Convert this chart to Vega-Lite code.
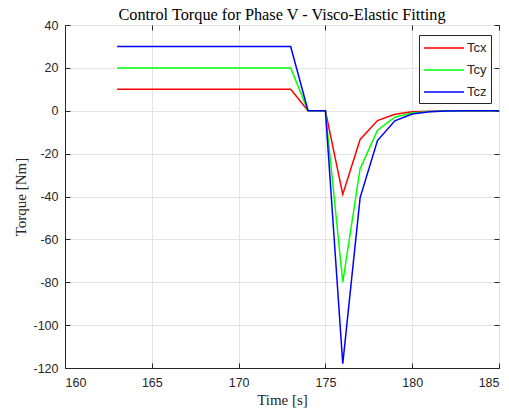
{
  "$schema": "https://vega.github.io/schema/vega-lite/v6.json",
  "autosize": {"type": "none"},
  "width": 434,
  "height": 343,
  "padding": {"left": 65, "top": 25, "right": 10, "bottom": 42},
  "background": "white",
  "title": {"text": "Control Torque for Phase V - Visco-Elastic Fitting", "font": "Liberation Serif", "fontSize": 16.3, "fontWeight": "normal", "color": "#000000", "offset": -4},
  "config": {
    "view": {"stroke": "#262626", "strokeWidth": 1},
    "axis": {"labelFont": "Liberation Sans", "labelFontSize": 12.5, "labelColor": "#262626", "titleFont": "Liberation Serif", "titleFontSize": 15, "titleFontWeight": "normal", "titleColor": "#262626", "domainColor": "#262626", "tickColor": "#262626", "tickSize": -5, "gridColor": "#e3e3e3", "gridOpacity": 1}
  },
  "data": {"values": [
    {"t": 163, "s": "Tcx", "v": 10}, {"t": 164, "s": "Tcx", "v": 10}, {"t": 165, "s": "Tcx", "v": 10}, {"t": 166, "s": "Tcx", "v": 10}, {"t": 167, "s": "Tcx", "v": 10}, {"t": 168, "s": "Tcx", "v": 10}, {"t": 169, "s": "Tcx", "v": 10}, {"t": 170, "s": "Tcx", "v": 10}, {"t": 171, "s": "Tcx", "v": 10}, {"t": 172, "s": "Tcx", "v": 10}, {"t": 173, "s": "Tcx", "v": 10},
    {"t": 174, "s": "Tcx", "v": 0}, {"t": 175, "s": "Tcx", "v": 0}, {"t": 176, "s": "Tcx", "v": -39}, {"t": 177, "s": "Tcx", "v": -13.4}, {"t": 178, "s": "Tcx", "v": -4.6}, {"t": 179, "s": "Tcx", "v": -1.6}, {"t": 180, "s": "Tcx", "v": -0.5}, {"t": 181, "s": "Tcx", "v": -0.2}, {"t": 182, "s": "Tcx", "v": -0.05}, {"t": 183, "s": "Tcx", "v": 0}, {"t": 184, "s": "Tcx", "v": 0}, {"t": 185, "s": "Tcx", "v": 0},
    {"t": 163, "s": "Tcy", "v": 20}, {"t": 164, "s": "Tcy", "v": 20}, {"t": 165, "s": "Tcy", "v": 20}, {"t": 166, "s": "Tcy", "v": 20}, {"t": 167, "s": "Tcy", "v": 20}, {"t": 168, "s": "Tcy", "v": 20}, {"t": 169, "s": "Tcy", "v": 20}, {"t": 170, "s": "Tcy", "v": 20}, {"t": 171, "s": "Tcy", "v": 20}, {"t": 172, "s": "Tcy", "v": 20}, {"t": 173, "s": "Tcy", "v": 20},
    {"t": 174, "s": "Tcy", "v": 0}, {"t": 175, "s": "Tcy", "v": 0}, {"t": 176, "s": "Tcy", "v": -80}, {"t": 177, "s": "Tcy", "v": -27}, {"t": 178, "s": "Tcy", "v": -9.1}, {"t": 179, "s": "Tcy", "v": -3.0}, {"t": 180, "s": "Tcy", "v": -1.0}, {"t": 181, "s": "Tcy", "v": -0.35}, {"t": 182, "s": "Tcy", "v": -0.1}, {"t": 183, "s": "Tcy", "v": -0.03}, {"t": 184, "s": "Tcy", "v": 0}, {"t": 185, "s": "Tcy", "v": 0},
    {"t": 163, "s": "Tcz", "v": 30}, {"t": 164, "s": "Tcz", "v": 30}, {"t": 165, "s": "Tcz", "v": 30}, {"t": 166, "s": "Tcz", "v": 30}, {"t": 167, "s": "Tcz", "v": 30}, {"t": 168, "s": "Tcz", "v": 30}, {"t": 169, "s": "Tcz", "v": 30}, {"t": 170, "s": "Tcz", "v": 30}, {"t": 171, "s": "Tcz", "v": 30}, {"t": 172, "s": "Tcz", "v": 30}, {"t": 173, "s": "Tcz", "v": 30},
    {"t": 174, "s": "Tcz", "v": 0}, {"t": 175, "s": "Tcz", "v": 0}, {"t": 176, "s": "Tcz", "v": -118}, {"t": 177, "s": "Tcz", "v": -40.5}, {"t": 178, "s": "Tcz", "v": -13.9}, {"t": 179, "s": "Tcz", "v": -4.7}, {"t": 180, "s": "Tcz", "v": -1.5}, {"t": 181, "s": "Tcz", "v": -0.5}, {"t": 182, "s": "Tcz", "v": -0.17}, {"t": 183, "s": "Tcz", "v": -0.05}, {"t": 184, "s": "Tcz", "v": 0}, {"t": 185, "s": "Tcz", "v": 0}
  ]},
  "layer": [
    {
      "mark": {"type": "line", "strokeWidth": 1.5},
      "encoding": {
        "x": {"field": "t", "type": "quantitative", "scale": {"domain": [160, 185], "nice": false, "zero": false}, "axis": {"values": [160, 165, 170, 175, 180, 185], "title": "Time [s]", "titlePadding": 4, "labelPadding": 13}},
        "y": {"field": "v", "type": "quantitative", "scale": {"domain": [-120, 40], "nice": false, "zero": false}, "axis": {"values": [-120, -100, -80, -60, -40, -20, 0, 20, 40], "labelExpr": "'' + datum.value", "title": "Torque [Nm]", "titlePadding": 4, "labelPadding": 12}},
        "color": {"field": "s", "type": "nominal", "scale": {"domain": ["Tcx", "Tcy", "Tcz"], "range": ["#ff0000", "#00ff00", "#0000ff"]},
          "legend": {"title": null, "orient": "none", "legendX": 354, "legendY": 10, "symbolType": "M-1,0H4", "symbolSize": 256, "symbolStrokeWidth": 1.5, "symbolFillColor": "transparent", "labelFont": "Liberation Sans", "labelFontSize": 13, "labelColor": "#262626", "labelOffset": 26, "strokeColor": "#262626", "fillColor": "white", "padding": 4, "rowPadding": 6, "symbolOffset": 0}}
      }
    },
    {
      "mark": {"type": "line", "opacity": 0},
      "encoding": {
        "x": {"field": "t", "type": "quantitative", "scale": {"domain": [160, 185], "nice": false, "zero": false}, "axis": {"orient": "top", "values": [160, 165, 170, 175, 180, 185], "labels": false, "grid": false, "title": null, "domain": false}},
        "y": {"field": "v", "type": "quantitative", "scale": {"domain": [-120, 40], "nice": false, "zero": false}, "axis": {"orient": "right", "values": [-120, -100, -80, -60, -40, -20, 0, 20, 40], "labels": false, "grid": false, "title": null, "domain": false}},
        "detail": {"field": "s"}
      }
    }
  ],
  "resolve": {"scale": {"x": "independent", "y": "independent"}}
}
